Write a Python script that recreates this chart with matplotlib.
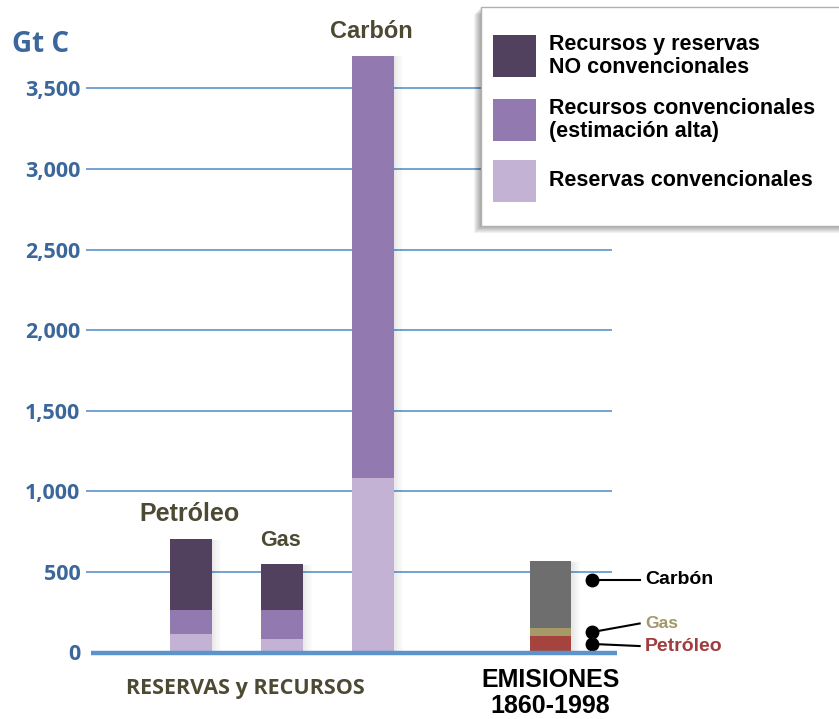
import matplotlib.pyplot as plt
from matplotlib.patches import Rectangle
import numpy as np

# Gt C por fuente (reservas y recursos)
fuentes = ['Petróleo', 'Gas', 'Carbón']
reservas_conv = [115, 84, 1083]
recursos_conv = [149, 180, 2620]
no_conv = [440, 285, 0]

# emisiones acumuladas 1860-1998
emis_fuentes = ['Petróleo', 'Gas', 'Carbón']
emisiones = [102, 52, 414]

yticks = [0, 500, 1000, 1500, 2000, 2500, 3000, 3500]

c_oscuro = '#52405f'
c_medio = '#9279b0'
c_claro = '#c3b2d4'
c_emis = ['#a5443f', '#a59a68', '#6e6e6e']
c_emis_txt = ['#a03c3c', '#a09868', '#000000']
azul = '#5b93cc'
azul_txt = '#3c679b'
oliva = '#4d4a33'

fig = plt.figure(figsize=(8.39, 7.19), dpi=100)
ax = fig.add_axes([86 / 839, 66.5 / 719, 526 / 839, 644.8 / 719])
ax.set_xlim(-1.154, 4.626)
ax.set_ylim(0, 4000)
for s in ax.spines.values():
    s.set_visible(False)
ax.set_xticks([])
ax.set_yticks(yticks)
ax.set_yticklabels([f'{v:,}' for v in yticks], fontfamily='Open Sans', fontweight='bold',
                   fontsize=15.5, color=azul_txt)
ax.tick_params(axis='y', length=0, pad=4)
for v in yticks[1:]:
    ax.axhline(v, color=azul, lw=1.2, zorder=0)
ax.hlines(0, -1.1, 4.68, color=azul, lw=3.2, zorder=5, clip_on=False)

x = np.arange(len(fuentes))
x_emis = 3.95
w = 0.46


def sombra(xc, alto):
    # sombra difusa a la derecha de cada barra
    for k in range(8):
        ax.add_patch(Rectangle((xc + w / 2 + k * 0.012, 0), 0.012, alto - 5,
                               color='black', alpha=0.09 * (1 - k / 8), lw=0, zorder=1))


tops = np.array(reservas_conv) + np.array(recursos_conv) + np.array(no_conv)
for xi, t in zip(x, tops):
    sombra(xi, t)
sombra(x_emis, sum(emisiones))

ax.bar(x, reservas_conv, w, color=c_claro, zorder=2)
ax.bar(x, recursos_conv, w, bottom=reservas_conv, color=c_medio, zorder=2)
ax.bar(x, no_conv, w, bottom=np.array(reservas_conv) + np.array(recursos_conv),
       color=c_oscuro, zorder=2)

base = 0
for v, c in zip(emisiones, c_emis):
    ax.bar(x_emis, v, w, bottom=base, color=c, zorder=2)
    base += v

tam = [18, 15.5, 17]
for xi, t, nombre, s in zip(x, tops, fuentes, tam):
    ax.text(xi - 0.02, t + 80, nombre, ha='center', va='bottom', fontfamily='Liberation Sans',
            fontweight='bold', fontsize=s, color=oliva)

# etiquetas de las emisiones
y_punto = [53, 127, 450]
y_txt = [40, 180, 450]
tam_e = [14, 12.5, 14]
x_p = 4.41
x_t = 4.99
for yp, yt, nombre, c, s in zip(y_punto, y_txt, emis_fuentes, c_emis_txt, tam_e):
    ax.plot([x_p, x_t - 0.06], [yp, yt], color='black', lw=1.5, clip_on=False, zorder=4)
    ax.plot(x_p, yp, 'o', color='black', ms=9, clip_on=False, zorder=4)
    ax.text(x_t, yt, nombre, ha='left', va='center', fontfamily='Liberation Sans',
            fontweight='bold', fontsize=s, color=c, clip_on=False)

ax.text(0.6, -225, 'RESERVAS y RECURSOS', ha='center', va='center', fontfamily='Open Sans',
        fontweight='bold', fontsize=15.5, color=oliva)
ax.text(x_emis, -250, 'EMISIONES\n1860-1998', ha='center', va='center',
        fontfamily='Liberation Sans', fontweight='bold', fontsize=18, color='black',
        linespacing=1.1)

fig.text(12 / 839, 1 - 45 / 719, 'Gt C', ha='left', va='center', fontfamily='Open Sans',
         fontweight='bold', fontsize=20, color=azul_txt)

# leyenda dibujada a mano en coordenadas de píxel
lg = fig.add_axes([0, 0, 1, 1], zorder=10)
lg.set_xlim(0, 839)
lg.set_ylim(719, 0)
lg.axis('off')
for k in range(8):
    lg.add_patch(Rectangle((481 - k, 7 + k), 370, 219, color='black',
                           alpha=0.05, lw=0))
lg.add_patch(Rectangle((481, 7), 370, 219, facecolor='white', edgecolor='#b0b0b0', lw=1))
items = [(c_oscuro, 'Recursos y reservas\nNO convencionales', 56),
         (c_medio, 'Recursos convencionales\n(estimación alta)', 120),
         (c_claro, 'Reservas convencionales', 181)]
for c, txt, yc in items:
    lg.add_patch(Rectangle((493, yc - 21), 43, 42, color=c, lw=0))
    lg.text(549, yc, txt, ha='left', va='center', fontfamily='Liberation Sans',
            fontweight='bold', fontsize=15.5, color='black', linespacing=1.15)

fig.savefig('out.png', dpi=100)
